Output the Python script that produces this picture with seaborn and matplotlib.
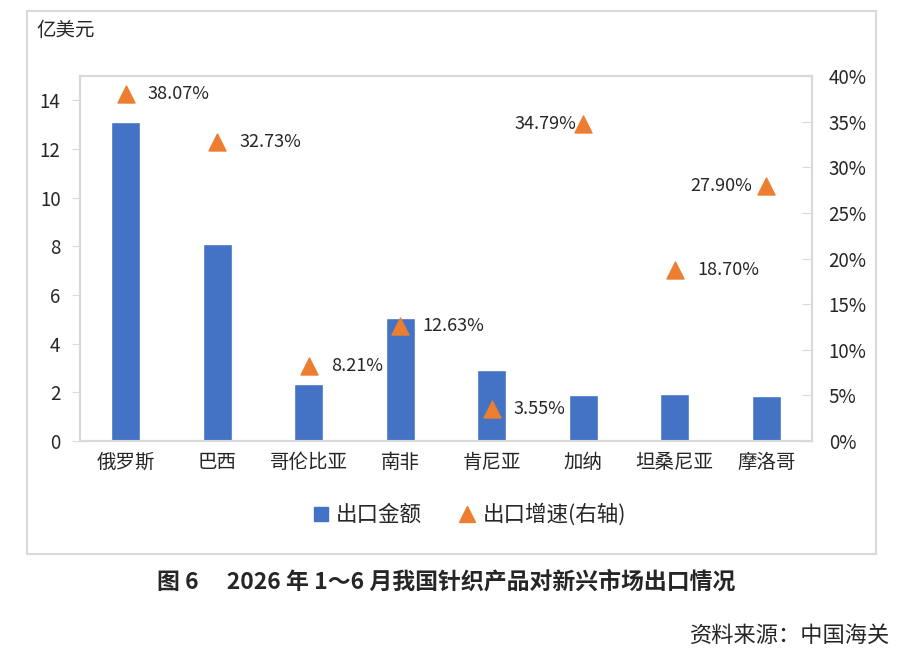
import numpy as np
import pandas as pd
import matplotlib
matplotlib.use('Agg')
import matplotlib.pyplot as plt
import seaborn as sns
from matplotlib.patches import Rectangle
from matplotlib.lines import Line2D
from matplotlib.ticker import FuncFormatter

countries = ['俄罗斯', '巴西', '哥伦比亚', '南非', '肯尼亚', '加纳', '坦桑尼亚', '摩洛哥']
export_value = [13.1, 8.1, 2.35, 5.07, 2.93, 1.9, 1.94, 1.86]   # 亿美元
export_growth = [38.07, 32.73, 8.21, 12.63, 3.55, 34.79, 18.70, 27.90]  # %

# label offsets (points) from each marker, negative = left of marker
label_dx = [16, 16, 16, 16, 16, -5, 16, -10]

sns.set_style('white')
plt.rcParams['font.family'] = ['Noto Sans CJK SC', 'DejaVu Sans']

df = pd.DataFrame({'country': countries, 'value': export_value, 'growth': np.array(export_growth) / 100})

BLUE = '#4472C4'
ORANGE = '#ED7D31'
GRID = '#D9D9D9'

W, H = 907, 667
fig = plt.figure(figsize=(W / 100, H / 100), dpi=100)

# outer frame
fig.patches.append(Rectangle((27 / W, 1 - 554 / H), (876 - 27) / W, (554 - 11) / H,
                             transform=fig.transFigure, fill=False, edgecolor=GRID, lw=1.5))

ax = fig.add_axes([80 / W, 1 - 441 / H, (812 - 80) / W, (441 - 76) / H])
sns.barplot(data=df, x='country', y='value', ax=ax, color=BLUE, width=0.32, saturation=1)
ax.set_xlim(-0.5, len(countries) - 0.5)
ax.set_ylim(0, 15)
ax.set_yticks(np.arange(0, 15, 2))
ax.set_xlabel('')
ax.set_ylabel('')
for s in ax.spines.values():
    s.set_color(GRID)
    s.set_linewidth(1.5)
ax.tick_params(axis='y', direction='out', length=6, color=GRID, labelsize=13.5, pad=8)
ax.tick_params(axis='x', length=0, labelsize=14, pad=8)

ax2 = ax.twinx()
sns.scatterplot(data=df, x='country', y='growth', ax=ax2, marker='^', s=150,
                color=ORANGE, edgecolor=ORANGE, legend=False)
ax2.set_ylim(0, 0.40)
ax2.set_yticks(np.arange(0, 0.41, 0.05))
ax2.yaxis.set_major_formatter(FuncFormatter(lambda v, p: f'{v * 100:.0f}%'))
ax2.set_ylabel('')
ax2.set_xlim(-0.5, len(countries) - 0.5)
for s in ax2.spines.values():
    s.set_color(GRID)
    s.set_linewidth(1.5)
ax2.tick_params(axis='y', direction='in', length=7, color=GRID, labelsize=13.5, pad=12)

for i, (g, dx) in enumerate(zip(export_growth, label_dx)):
    ax2.annotate(f'{g:.2f}%', (i, g / 100), xytext=(dx, 0), textcoords='offset points',
                 ha='left' if dx > 0 else 'right', va='center', fontsize=13)

fig.text(36 / W, 1 - 31 / H, '亿美元', fontsize=14, ha='left', va='center')

handles = [Line2D([], [], marker='s', ls='', color=BLUE, markersize=10),
           Line2D([], [], marker='^', ls='', color=ORANGE, markersize=12)]
fig.legend(handles, ['出口金额', '出口增速(右轴)'], loc='center', bbox_to_anchor=(468 / W, 1 - 515 / H),
           ncol=2, frameon=False, fontsize=15.5, handletextpad=0.2, columnspacing=1.6, handlelength=1)

fig.text(157 / W, 1 - 582 / H, '图 6\u3000 2026 年 1～6 月我国针织产品对新兴市场出口情况',
         fontsize=16.5, fontweight='bold', ha='left', va='center')
fig.text(890 / W, 1 - 635 / H, '资料来源：中国海关', fontsize=16, ha='right', va='center')

fig.savefig('out.png', dpi=100)
